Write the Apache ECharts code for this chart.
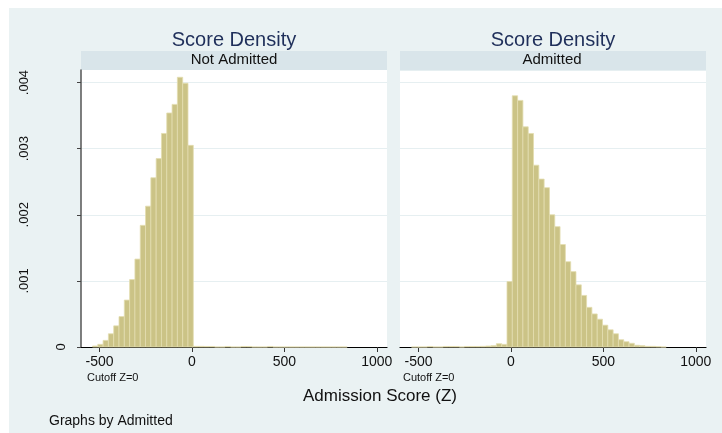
<!DOCTYPE html>
<html>
<head>
<meta charset="utf-8">
<script src="https://cdn.jsdelivr.net/npm/echarts@6/dist/echarts.min.js"></script>
<style>
  html, body { margin: 0; padding: 0; background: #fff; }
  #main { width: 722px; height: 433px; }
</style>
</head>
<body>
<div id="main"></div>
<script>
// histogram bins (shared by both panels)
const binStart = -537.9
const binWidth = 28.7
// density per bin
const notAdmitted = [
    0.000015, 0.00004, 0.0001, 0.0002, 0.00032, 0.00046, 0.00071, 0.00102, 0.00133, 0.00184,
    0.00213, 0.00256, 0.00285, 0.00323, 0.00354, 0.00367, 0.00408, 0.00399, 0.00305, 0.00001,
    0.00001, 0.000008, 0.000008, 0, 0, 0.000008, 0, 0, 0.000008, 0.000008,
    0, 0, 0, 0.000008, 0, 0, 0, 0, 0, 0,
    0, 0, 0, 0, 0, 0, 0, 0
]
const admitted = [
    0, 0, 0, 0.000008, 0, 0, 0.000008, 0.000008, 0.000008, 0,
    0.000008, 0.000008, 0.000008, 0.00001, 0.000015, 0.00002, 0.00005, 0.00004, 0.00099, 0.0038,
    0.00373, 0.00333, 0.00323, 0.00275, 0.00254, 0.00241, 0.002, 0.00182, 0.00155, 0.00129,
    0.00114, 0.00094, 0.00078, 0.0006, 0.0005, 0.00042, 0.00033, 0.00026, 0.0002, 0.00011,
    0.00008, 0.000056, 0.000026, 0.00002, 0.00001, 0.00001, 0.000005, 0
]
const panelNames = ['Not Admitted', 'Admitted']
const xTicks = [-500, 0, 500, 1000]
const yTicks = [0.001, 0.002, 0.003, 0.004]

const FONT = '"Liberation Sans", Arial, sans-serif'
const GRIDS = [{ left: 81, top: 70, width: 306, height: 277 }, { left: 400, top: 70, width: 306, height: 277 }]

// 把每个bin变成 [起点, 终点, 密度]
function toBins(arr) {
    return arr.map((d, i) => [binStart + i * binWidth, binStart + (i + 1) * binWidth, d])
}

function renderBin(params, api) {
    const p0 = api.coord([api.value(0), api.value(2)])
    const p1 = api.coord([api.value(1), 0])
    return {
        type: 'rect',
        shape: { x: p0[0], y: p0[1], width: p1[0] - p0[0], height: p1[1] - p0[1] },
        style: { fill: '#cbc386', stroke: '#e3ddb0', lineWidth: 0.8 }
    }
}

function txt(text, x, y, size, color, align) {
    return {
        type: 'text', x: x, y: y, z: 10,
        style: {
            text: text, font: size + 'px ' + FONT, fill: color,
            align: align || 'center', textAlign: align || 'center',
            verticalAlign: 'middle', textVerticalAlign: 'middle'
        }
    }
}

const xAxisBase = {
    type: 'value', min: -600, max: 1055,
    axisLine: { show: true, onZero: false, lineStyle: { color: '#000', width: 1.2 } },
    axisTick: { show: true, length: 5, customValues: xTicks, lineStyle: { color: '#333' } },
    axisLabel: { customValues: xTicks, margin: 8, fontSize: 14, fontFamily: FONT, color: '#111', formatter: v => String(v) },
    splitLine: { show: false }
}
const yBase = { type: 'value', min: 0, max: 0.00419, position: 'left' }

var myChart = echarts.init(document.getElementById('main'))

var option = {
    backgroundColor: '#eaf2f3',
    animation: false,
    grid: GRIDS.map(g => Object.assign({ show: true, backgroundColor: '#fff', borderWidth: 0 }, g)),
    xAxis: [
        Object.assign({ gridIndex: 0 }, xAxisBase),
        Object.assign({ gridIndex: 1 }, xAxisBase)
    ],
    yAxis: [
        Object.assign({
            gridIndex: 0,
            axisLine: { show: true, onZero: false, lineStyle: { color: '#555', width: 1.5 } },
            axisTick: { show: true, length: 4, customValues: [0].concat(yTicks), lineStyle: { color: '#444' } },
            axisLabel: {
                customValues: yTicks, rotate: 90, margin: 50, fontSize: 13, fontFamily: FONT, color: '#111',
                formatter: v => String(v).replace('0.', '.')
            },
            splitLine: { show: true, lineStyle: { color: '#e6eff1', width: 1 } }
        }, yBase),
        // "0" 标签位置不一样，单独一个轴
        Object.assign({
            gridIndex: 0,
            axisLine: { show: false, onZero: false }, axisTick: { show: false }, splitLine: { show: false },
            axisLabel: { customValues: [0], rotate: 90, margin: 13, fontSize: 13, fontFamily: FONT, color: '#111' }
        }, yBase),
        Object.assign({
            gridIndex: 1,
            axisLine: { show: false, onZero: false }, axisTick: { show: false }, axisLabel: { show: false },
            splitLine: { show: true, lineStyle: { color: '#e6eff1', width: 1 } }
        }, yBase)
    ],
    graphic: [
        // 左边和上边的白边
        { type: 'rect', shape: { x: 0, y: 0, width: 9, height: 433 }, style: { fill: '#fff' } },
        { type: 'rect', shape: { x: 0, y: 0, width: 722, height: 8 }, style: { fill: '#fff' } },
        // strips
        { type: 'rect', shape: { x: 81, y: 51, width: 306, height: 19 }, style: { fill: '#d9e5ea' } },
        { type: 'rect', shape: { x: 400, y: 51, width: 306, height: 19 }, style: { fill: '#d9e5ea' } },
        txt('Score Density', 234, 40, 20, '#1f2f5a'),
        txt('Score Density', 553, 40, 20, '#1f2f5a'),
        txt(panelNames[0], 234, 60, 15, '#111'),
        txt(panelNames[1], 552, 60, 15, '#111'),
        txt('Cutoff Z=0', 87, 378, 11, '#111', 'left'),
        txt('Cutoff Z=0', 403, 378, 11, '#111', 'left'),
        txt('Admission Score (Z)', 380, 396, 17, '#111'),
        txt('Graphs by Admitted', 49, 421, 14, '#111', 'left')
    ],
    series: [
        {
            type: 'custom', xAxisIndex: 0, yAxisIndex: 0, renderItem: renderBin,
            encode: { x: [0, 1], y: 2 }, data: toBins(notAdmitted), z: 2
        },
        {
            type: 'custom', xAxisIndex: 1, yAxisIndex: 2, renderItem: renderBin,
            encode: { x: [0, 1], y: 2 }, data: toBins(admitted), z: 2
        }
    ]
}

myChart.setOption(option)
</script>
</body>
</html>
